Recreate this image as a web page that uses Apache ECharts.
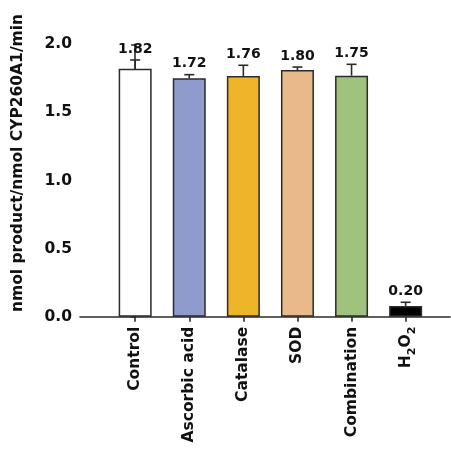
<!DOCTYPE html>
<html>
<head>
<meta charset="utf-8">
<script src="https://cdn.jsdelivr.net/npm/echarts@6/dist/echarts.min.js"></script>
<style>
html,body{margin:0;padding:0;background:#fff;}
#c{width:451px;height:451px;}
</style>
</head>
<body>
<div id="c"></div>
<script>
var categories = ['Control', 'Ascorbic acid', 'Catalase', 'SOD', 'Combination', 'H2O2'];
var means = [1.82, 1.75, 1.767, 1.811, 1.77, 0.079];
var errors = [0.065, 0.027, 0.079, 0.022, 0.083, 0.027];
var valueLabels = ['1.82', '1.72', '1.76', '1.80', '1.75', '0.20'];
var colors = ['#ffffff', '#8e9bcc', '#efb52a', '#e9b98a', '#9fc27d', '#000000'];
var yTicks = [0, 0.5, 1.0, 1.5, 2.0];

var FONT = 'DejaVu Sans';
var AXIS = '#2b2b2b';

var barData = means.map(function (v, i) {
  return { value: [i, v], itemStyle: { color: colors[i] } };
});
var errData = means.map(function (v, i) {
  return [i, v, errors[i], valueLabels[i]];
});

var chart = echarts.init(document.getElementById('c'), null, { renderer: 'canvas' });
chart.setOption({
  animation: false,
  backgroundColor: '#fff',
  grid: { left: 80, right: 1, top: 44.3, bottom: 134.3, containLabel: false },
  xAxis: {
    type: 'value',
    min: -1.02,
    max: 5.82,
    splitLine: { show: false },
    axisLine: { show: true, onZero: false, lineStyle: { color: AXIS, width: 1.6 } },
    axisTick: { show: true, length: 5, lineStyle: { color: AXIS, width: 1.6 }, customValues: [0, 1, 2, 3, 4, 5] },
    axisLabel: {
      show: true,
      customValues: [0, 1, 2, 3, 4, 5],
      rotate: 90,
      margin: 10,
      fontFamily: FONT,
      fontWeight: 'bold',
      fontSize: 15.5,
      color: '#111',
      formatter: function (v) {
        var name = categories[Math.round(v)];
        if (name === 'H2O2') return 'H{sub|2}O{sub|2}';
        return name;
      },
      rich: {
        sub: { fontSize: 11, fontFamily: FONT, fontWeight: 'bold', color: '#111', verticalAlign: 'bottom', padding: [0, 0, -4, 0] }
      }
    }
  },
  yAxis: {
    type: 'value',
    min: 0,
    max: 2.0,
    interval: 0.5,
    splitLine: { show: false },
    axisLine: { show: true, lineStyle: { color: AXIS, width: 1.6 } },
    axisTick: { show: true, length: 4, lineStyle: { color: AXIS, width: 1.6 } },
    axisLabel: {
      margin: 8,
      fontFamily: FONT,
      fontWeight: 'bold',
      fontSize: 15.5,
      color: '#111',
      formatter: function (v) { return v.toFixed(1); }
    }
  },
  graphic: [{
    type: 'text',
    x: 18,
    y: 163,
    rotation: Math.PI / 2,
    style: {
      text: 'nmol product/nmol CYP260A1/min',
      fontFamily: FONT,
      fontWeight: 'bold',
      fontSize: 15.5,
      fill: '#111',
      align: 'center',
      verticalAlign: 'middle'
    }
  }],
  series: [
    {
      type: 'bar',
      data: barData,
      barWidth: 33,
      itemStyle: { borderColor: AXIS, borderWidth: 1.5 }
    },
    {
      type: 'custom',
      data: errData,
      z: 5,
      renderItem: function (params, api) {
        var x = api.value(0), m = api.value(1), e = api.value(2);
        var lbl = valueLabels[params.dataIndex];
        var p0 = api.coord([x, m]);
        var p1 = api.coord([x, m + e]);
        var st = { stroke: AXIS, lineWidth: 1.6 };
        return {
          type: 'group',
          children: [
            { type: 'line', shape: { x1: p0[0], y1: p0[1], x2: p1[0], y2: p1[1] }, style: st },
            { type: 'line', shape: { x1: p1[0] - 5, y1: p1[1], x2: p1[0] + 5, y2: p1[1] }, style: st },
            { type: 'text', x: p1[0], y: p1[1] - 4, style: { text: lbl, fontFamily: FONT, fontWeight: 'bold', fontSize: 14, fill: '#111', align: 'center', verticalAlign: 'bottom' } }
          ]
        };
      }
    }
  ]
});
</script>
</body>
</html>
